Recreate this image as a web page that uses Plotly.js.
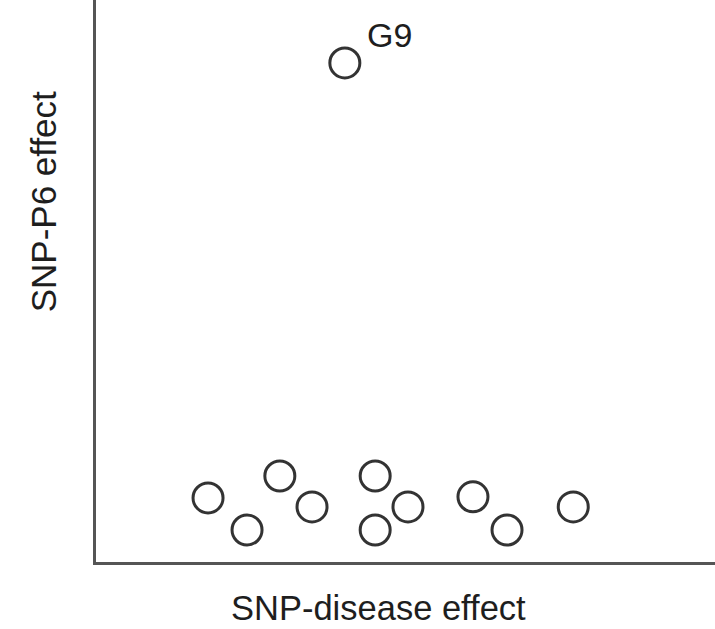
<!DOCTYPE html>
<html>
<head>
<meta charset="utf-8">
<script src="https://cdn.plot.ly/plotly-3.0.1.min.js"></script>
<style>html,body{margin:0;padding:0;background:#fff;}#chart{width:715px;height:629px;}</style>
</head>
<body>
<div id="chart"></div>
<script>
// SNP effects (arbitrary units, 0-100)
const snpDiseaseEffect = [18.1, 24.4, 29.7, 34.9, 45.1, 45.1, 50.4, 60.9, 66.4, 77.1, 40.2];
const snpP6Effect      = [11.4, 5.7, 15.3, 9.8, 15.3, 5.7, 9.8, 11.6, 5.7, 9.8, 88.8];
const pointLabels      = ["", "", "", "", "", "", "", "", "", "", "G9"];
const xTitle = "SNP-disease effect";
const yTitle = "SNP-P6 effect";

const font = "Liberation Sans, Arial, sans-serif";
const labelled = pointLabels.map((t, i) => t ? i : -1).filter(i => i >= 0);

const trace = {
  x: snpDiseaseEffect,
  y: snpP6Effect,
  mode: "markers",
  type: "scatter",
  marker: {symbol: "circle", size: 30, color: "#ffffff", line: {color: "#333333", width: 3}},
  hoverinfo: "none",
  showlegend: false
};

const annotations = labelled.map(i => ({
  x: snpDiseaseEffect[i], y: snpP6Effect[i], xref: "x", yref: "y",
  text: pointLabels[i], showarrow: false, xanchor: "left", yanchor: "bottom",
  xshift: 20, yshift: 7, font: {family: font, size: 34, color: "#1e1e1e"}
}));
annotations.push({
  x: 0.457, y: -0.082, xref: "paper", yref: "paper", text: xTitle, showarrow: false,
  xanchor: "center", yanchor: "middle", font: {family: font, size: 34.5, color: "#1e1e1e"}
});
annotations.push({
  x: -0.0856, y: 0.64, xref: "paper", yref: "paper", text: yTitle, showarrow: false,
  textangle: -90, xanchor: "center", yanchor: "middle", font: {family: font, size: 35, color: "#1e1e1e"}
});

const axisBase = {
  range: [0, 100], showgrid: false, zeroline: false, showticklabels: false, ticks: "",
  showline: true, linecolor: "#555", linewidth: 3, fixedrange: true
};

const layout = {
  width: 715, height: 629,
  margin: {l: 96, r: 0, t: 0, b: 67},
  paper_bgcolor: "#fff", plot_bgcolor: "#fff",
  xaxis: Object.assign({}, axisBase),
  yaxis: Object.assign({}, axisBase),
  annotations: annotations
};

Plotly.newPlot("chart", [trace], layout, {displayModeBar: false, staticPlot: true});
</script>
</body>
</html>
